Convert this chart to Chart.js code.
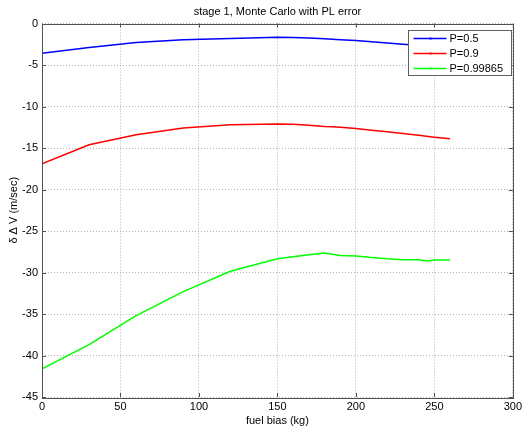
<!DOCTYPE html>
<html>
<head>
<meta charset="utf-8">
<script src="https://cdn.jsdelivr.net/npm/chart.js@4"></script>
<style>
html,body{margin:0;padding:0;background:#fff;}
#wrap{width:525px;height:429px;}
</style>
</head>
<body>
<div id="wrap"><canvas id="c" width="525" height="429"></canvas></div>
<script>
const chartTitle = 'stage 1, Monte Carlo with PL error';
const fuelBias = [0,30,60,90,120,150,160,170,180,185,190,200,210,220,230,240,245,250,260];
const p05 = [-3.6,-2.9,-2.3,-1.95,-1.8,-1.65,-1.7,-1.75,-1.85,-1.9,-1.95,-2.05,-2.2,-2.35,-2.5,-2.65,-2.72,-2.8,-2.95];
const p09 = [-16.9,-14.6,-13.4,-12.6,-12.2,-12.1,-12.15,-12.25,-12.4,-12.45,-12.5,-12.65,-12.85,-13.05,-13.25,-13.45,-13.58,-13.7,-13.9];
const p99865 = [-41.6,-38.7,-35.2,-32.3,-29.85,-28.35,-28.1,-27.85,-27.65,-27.8,-27.95,-28.0,-28.2,-28.35,-28.45,-28.45,-28.6,-28.5,-28.5];
const seriesLabels = ['P=0.5','P=0.9','P=0.99865'];
const seriesColors = ['#0000ff','#ff0000','#00ff00'];
const xTicks = [0,50,100,150,200,250,300];
const yTicks = [0,-5,-10,-15,-20,-25,-30,-35,-40,-45];

const seriesValues = [p05,p09,p99865];
const FONT = 'Arial, "Liberation Sans", Helvetica, sans-serif';

const datasets = seriesValues.map((vals,i)=>({
  label: seriesLabels[i],
  data: fuelBias.map((x,j)=>({x:x,y:vals[j]})),
  borderColor: seriesColors[i],
  backgroundColor: seriesColors[i],
  borderWidth: 1.5,
  pointRadius: 0,
  tension: 0,
  fill: false
}));

const matlabPlugin = {
  id: 'matlab',
  afterDraw(chart){
    const ctx = chart.ctx;
    const {left,right,top,bottom} = chart.chartArea;
    const xs = chart.scales.x, ys = chart.scales.y;
    ctx.save();
    // title
    ctx.fillStyle = '#000';
    ctx.font = '11px ' + FONT;
    ctx.textAlign = 'center';
    ctx.textBaseline = 'middle';
    ctx.fillText(chartTitle, (left+right)/2, 12);
    ctx.strokeStyle = '#505050';
    ctx.lineWidth = 1;
    // inner ticks
    ctx.beginPath();
    xTicks.forEach(v=>{
      const px = Math.round(xs.getPixelForValue(v))+0.5;
      ctx.moveTo(px,bottom); ctx.lineTo(px,bottom-4);
      ctx.moveTo(px,top); ctx.lineTo(px,top+4);
    });
    yTicks.forEach(v=>{
      const py = Math.round(ys.getPixelForValue(v))+0.5;
      ctx.moveTo(left,py); ctx.lineTo(left+4,py);
      ctx.moveTo(right,py); ctx.lineTo(right-4,py);
    });
    ctx.stroke();
    // box
    ctx.strokeRect(Math.round(left)+0.5, Math.round(top)+0.5, Math.round(right-left), Math.round(bottom-top));
    // legend
    const bw = 103, bh = 45;
    const bx = Math.round(right) - bw - 2 + 0.5;
    const by = Math.round(top) + 6 + 0.5;
    ctx.fillStyle = '#fff';
    ctx.fillRect(bx,by,bw,bh);
    ctx.strokeStyle = '#606060';
    ctx.strokeRect(bx,by,bw,bh);
    ctx.font = '11px ' + FONT;
    ctx.textBaseline = 'middle';
    ctx.textAlign = 'left';
    chart.data.datasets.forEach((ds,i)=>{
      const ry = by + 8 + i*15;
      ctx.strokeStyle = ds.borderColor;
      ctx.lineWidth = 1.5;
      ctx.beginPath();
      ctx.moveTo(bx+5, ry); ctx.lineTo(bx+38, ry);
      ctx.stroke();
      ctx.fillStyle = ds.borderColor;
      ctx.fillRect(bx+21, ry-1, 2, 2);
      ctx.fillStyle = '#000';
      ctx.fillText(ds.label, bx+41, ry+0.5);
    });
    ctx.restore();
  }
};

new Chart(document.getElementById('c'), {
  type: 'line',
  data: { datasets },
  options: {
    responsive: false,
    animation: false,
    layout: { padding: { left: 0, right: 10, top: 23.5, bottom: 0 } },
    plugins: {
      legend: { display: false },
      tooltip: { enabled: false },
      title: { display: false }
    },
    scales: {
      x: {
        type: 'linear',
        min: 0, max: 300,
        afterBuildTicks(s){ s.ticks = xTicks.map(v=>({value:v})); },
        afterFit(s){ s.height = 32; },
        ticks: { color: '#000', font: { family: FONT, size: 11 }, padding: 3, maxRotation: 0 },
        grid: { color: '#b4b4b4', lineWidth: 1, drawTicks: false },
        border: { display: false, dash: [1,2] },
        title: { display: true, text: 'fuel bias (kg)', color: '#000', font: { family: FONT, size: 11 }, padding: { top: 0, bottom: 1 } }
      },
      y: {
        type: 'linear',
        min: -45, max: 0,
        afterBuildTicks(s){ s.ticks = yTicks.map(v=>({value:v})); },
        afterFit(s){ s.width = 42; },
        ticks: { color: '#000', font: { family: FONT, size: 11 }, padding: 4 },
        grid: { color: '#b4b4b4', lineWidth: 1, drawTicks: false },
        border: { display: false, dash: [1,2] },
        title: { display: true, text: 'δ Δ V (m/sec)', color: '#000', font: { family: FONT, size: 11 }, padding: { top: 7.5, bottom: 0 } }
      }
    }
  },
  plugins: [matlabPlugin]
});
</script>
</body>
</html>
